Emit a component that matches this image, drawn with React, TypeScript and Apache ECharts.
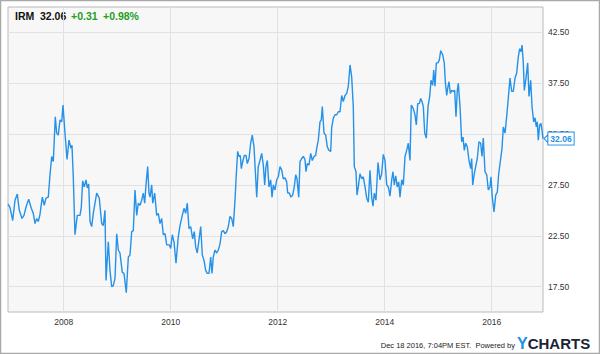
import React, { useEffect, useRef } from "react";
import * as echarts from "echarts";

// Dates as decimal years (weekly-ish samples), IRM close prices
const years: number[] = [
  2006.959, 2006.996, 2007.047, 2007.09, 2007.133, 2007.17, 2007.221, 2007.258, 2007.295, 2007.346,
  2007.394, 2007.432, 2007.464, 2007.495, 2007.525, 2007.557, 2007.6, 2007.637, 2007.669, 2007.712,
  2007.744, 2007.776, 2007.806, 2007.843, 2007.869, 2007.899, 2007.931, 2007.963, 2007.987, 2008.024,
  2008.062, 2008.099, 2008.136, 2008.155, 2008.179, 2008.211, 2008.254, 2008.305, 2008.329, 2008.355,
  2008.385, 2008.417, 2008.441, 2008.467, 2008.492, 2008.523, 2008.553, 2008.617, 2008.665, 2008.71,
  2008.74, 2008.772, 2008.791, 2008.834, 2008.865, 2008.897, 2008.927, 2008.959, 2008.991, 2009.021,
  2009.052, 2009.095, 2009.127, 2009.17, 2009.208, 2009.239, 2009.271, 2009.301, 2009.333, 2009.365,
  2009.394, 2009.426, 2009.458, 2009.488, 2009.514, 2009.538, 2009.57, 2009.594, 2009.613, 2009.645,
  2009.664, 2009.701, 2009.738, 2009.768, 2009.8, 2009.832, 2009.862, 2009.894, 2009.925, 2009.974,
  2010.0, 2010.03, 2010.062, 2010.099, 2010.142, 2010.174, 2010.217, 2010.249, 2010.28, 2010.31,
  2010.342, 2010.374, 2010.411, 2010.441, 2010.467, 2010.497, 2010.529, 2010.561, 2010.591, 2010.622,
  2010.654, 2010.684, 2010.716, 2010.748, 2010.772, 2010.796, 2010.828, 2010.86, 2010.89, 2010.922,
  2010.953, 2010.983, 2011.015, 2011.047, 2011.077, 2011.108, 2011.14, 2011.17, 2011.202, 2011.226,
  2011.252, 2011.277, 2011.301, 2011.32, 2011.346, 2011.376, 2011.408, 2011.432, 2011.464, 2011.495,
  2011.525, 2011.557, 2011.581, 2011.608, 2011.637, 2011.669, 2011.701, 2011.731, 2011.757, 2011.781,
  2011.806, 2011.837, 2011.869, 2011.894, 2011.918, 2011.95, 2011.981, 2012.011, 2012.043, 2012.075,
  2012.105, 2012.137, 2012.168, 2012.187, 2012.217, 2012.249, 2012.28, 2012.31, 2012.337, 2012.361,
  2012.393, 2012.417, 2012.449, 2012.479, 2012.51, 2012.529, 2012.553, 2012.585, 2012.617, 2012.647,
  2012.679, 2012.71, 2012.729, 2012.759, 2012.791, 2012.815, 2012.834, 2012.866, 2012.897, 2012.927,
  2012.959, 2012.991, 2013.009, 2013.039, 2013.071, 2013.103, 2013.133, 2013.165, 2013.196, 2013.226,
  2013.258, 2013.29, 2013.32, 2013.352, 2013.383, 2013.413, 2013.432, 2013.464, 2013.482, 2013.507,
  2013.538, 2013.57, 2013.6, 2013.632, 2013.664, 2013.694, 2013.725, 2013.757, 2013.781, 2013.806,
  2013.837, 2013.875, 2013.912, 2013.944, 2013.974, 2014.006, 2014.038, 2014.068, 2014.099, 2014.131,
  2014.155, 2014.18, 2014.206, 2014.236, 2014.262, 2014.286, 2014.318, 2014.348, 2014.38, 2014.411,
  2014.441, 2014.473, 2014.497, 2014.535, 2014.566, 2014.591, 2014.617, 2014.647, 2014.673, 2014.697,
  2014.722, 2014.748, 2014.778, 2014.81, 2014.841, 2014.866, 2014.897, 2014.916, 2014.94, 2014.965,
  2014.996, 2015.021, 2015.047, 2015.084, 2015.114, 2015.133, 2015.159, 2015.177, 2015.202, 2015.226,
  2015.252, 2015.282, 2015.308, 2015.333, 2015.357, 2015.376, 2015.408, 2015.439, 2015.464, 2015.488,
  2015.514, 2015.544, 2015.576, 2015.608, 2015.626, 2015.645, 2015.675, 2015.706, 2015.731, 2015.762,
  2015.794, 2015.819, 2015.843, 2015.875, 2015.907, 2015.937, 2015.968, 2015.987, 2016.011, 2016.043,
  2016.075, 2016.105, 2016.131, 2016.161, 2016.193, 2016.217, 2016.249, 2016.28, 2016.31, 2016.342,
  2016.374, 2016.404, 2016.436, 2016.467, 2016.497, 2016.523, 2016.548, 2016.567, 2016.591, 2016.61,
  2016.641, 2016.673, 2016.697, 2016.729, 2016.754, 2016.785, 2016.81, 2016.834, 2016.852, 2016.871,
  2016.897, 2016.921, 2016.94, 2016.959,
];

const prices: number[] = [
  25.6, 25.3, 24.0, 26.0, 26.6, 25.0, 24.2, 24.5, 25.3, 26.1,
  25.2, 24.7, 23.7, 24.2, 23.9, 24.6, 26.3, 25.5, 26.2, 26.3,
  28.5, 30.3, 29.8, 34.2, 32.6, 32.4, 33.9, 33.7, 35.35, 32.6,
  30.0, 31.9, 31.1, 31.4, 28.3, 22.6, 24.5, 24.5, 25.3, 27.9,
  27.3, 28.0, 27.2, 27.6, 23.9, 23.4, 24.7, 26.7, 26.2, 23.7,
  23.5, 25.0, 18.1, 21.9, 19.1, 17.5, 17.6, 18.3, 22.7, 21.1,
  20.8, 18.9, 18.8, 16.9, 20.4, 20.6, 22.9, 23.0, 27.0, 24.5,
  25.7, 25.5, 26.0, 26.7, 25.7, 27.5, 29.3, 26.7, 26.3, 27.5,
  25.7, 26.7, 24.5, 24.7, 23.7, 24.2, 22.6, 22.7, 21.6, 21.6,
  21.25, 22.6, 21.9, 19.8, 22.4, 23.5, 24.5, 25.2, 24.7, 25.7,
  23.2, 23.4, 22.2, 22.9, 21.4, 20.8, 22.1, 23.4, 20.6, 20.1,
  19.1, 18.8, 18.8, 20.4, 18.8, 20.4, 21.1, 20.8, 21.1, 21.7,
  22.9, 23.0, 22.7, 22.9, 23.4, 24.4, 24.2, 23.4, 26.0, 28.5,
  30.8, 30.3, 30.4, 29.1, 29.8, 30.4, 30.4, 29.6, 30.1, 31.6,
  32.4, 31.25, 28.95, 26.3, 29.3, 29.9, 30.6, 29.45, 27.5, 29.3,
  29.9, 27.3, 28.0, 26.3, 27.5, 27.0, 28.0, 28.3, 29.3, 28.95,
  28.1, 28.2, 27.8, 26.7, 26.7, 26.3, 26.5, 27.3, 28.5, 28.1,
  26.3, 29.8, 30.1, 30.3, 30.0, 28.8, 29.6, 29.45, 30.6, 29.9,
  30.3, 30.4, 31.1, 31.9, 33.7, 33.9, 35.2, 32.6, 32.4, 31.25,
  30.9, 30.8, 33.1, 34.05, 34.4, 34.4, 34.7, 34.7, 36.3, 35.7,
  36.3, 36.5, 37.2, 39.3, 38.1, 35.2, 29.3, 28.8, 26.5, 27.3,
  28.6, 28.1, 28.3, 27.3, 26.2, 25.8, 28.95, 26.3, 25.4, 26.7,
  26.0, 29.7, 28.0, 28.6, 30.5, 29.9, 27.5, 27.3, 26.4, 28.0,
  28.8, 27.5, 28.4, 27.3, 27.8, 26.3, 28.0, 27.5, 30.3, 30.9,
  31.6, 29.9, 35.35, 35.0, 34.4, 33.4, 35.5, 35.5, 36.0, 35.7,
  35.2, 32.6, 32.1, 35.2, 36.2, 37.8, 37.3, 38.8, 37.2, 39.5,
  39.5, 39.8, 40.7, 40.3, 39.5, 37.65, 36.3, 37.0, 37.65, 36.5,
  36.8, 36.7, 36.8, 34.2, 36.8, 37.5, 35.2, 31.75, 32.2, 30.9,
  31.6, 31.25, 29.9, 29.1, 30.1, 27.5, 28.6, 29.45, 30.1, 31.75,
  31.6, 30.3, 32.1, 28.8, 28.5, 27.0, 27.3, 28.3, 26.3, 24.85,
  26.5, 26.8, 28.6, 29.8, 31.1, 33.2, 32.6, 34.2, 36.0, 38.0,
  36.7, 36.7, 38.0, 38.5, 40.1, 40.9, 40.6, 41.25, 39.5, 36.8,
  38.0, 39.5, 36.2, 37.8, 35.2, 33.7, 34.1, 33.2, 33.7, 31.9,
  33.4, 33.55, 32.9, 32.06,
];

const yearTicks: number[] = [2008, 2010, 2012, 2014, 2016];
const priceTicks: number[] = [17.5, 22.5, 27.5, 32.5, 37.5, 42.5];
const xRange: number[] = [2006.959, 2016.959];
const yRange: number[] = [15, 45];

const ticker = "IRM";
const lastPrice = "32.06";
const change = "+0.31";
const changePct = "+0.98%";
const footerText = "Dec 18 2016, 7:04PM EST.  Powered by";

const BLUE = "#2591e8";
const GREEN = "#1f9e1f";
const FONT = "'Liberation Sans', Arial, sans-serif";

export default function App() {
  const ref = useRef<HTMLDivElement>(null);

  useEffect(() => {
    if (!ref.current) return;
    const chart = echarts.init(ref.current, null, { renderer: "svg" });
    const data = years.map((y, i) => [y, prices[i]]);
    const last = data[data.length - 1];

    chart.setOption({
      animation: false,
      backgroundColor: "#ffffff",
      textStyle: { fontFamily: FONT },
      grid: {
        left: 8,
        right: 57,
        top: 7,
        bottom: 42,
        show: true,
        backgroundColor: "#f7f7f7",
        borderColor: "#b9b9b9",
        borderWidth: 1,
      },
      xAxis: {
        type: "value",
        min: xRange[0],
        max: xRange[1],
        axisLine: { show: false },
        axisTick: { show: false, customValues: yearTicks },
        axisLabel: {
          customValues: yearTicks,
          formatter: (v: number) => String(Math.round(v)),
          color: "#333",
          fontSize: 8.5,
          fontFamily: FONT,
          margin: 5,
        },
        splitLine: { show: true, lineStyle: { color: "#e1e1e1", width: 1 } },
      },
      yAxis: {
        type: "value",
        position: "right",
        min: yRange[0],
        max: yRange[1],
        axisLine: { show: false },
        axisTick: { show: false, customValues: priceTicks },
        axisLabel: {
          customValues: priceTicks,
          formatter: (v: number) => v.toFixed(2),
          color: "#333",
          fontSize: 8.5,
          fontFamily: FONT,
          margin: 5,
        },
        splitLine: { show: true, lineStyle: { color: "#e1e1e1", width: 1 } },
      },
      series: [
        {
          type: "line",
          data,
          showSymbol: false,
          symbol: "none",
          lineStyle: { color: BLUE, width: 1.4 },
          z: 3,
          markPoint: {
            silent: true,
            z: 10,
            data: [
              {
                coord: last,
                symbol: "path://M0 4 L4 0 L4 8 Z",
                symbolSize: [4, 8],
                symbolOffset: [3, 0],
                itemStyle: { color: "#ffffff", borderColor: BLUE, borderWidth: 1 },
                label: {
                  show: true,
                  position: "right",
                  distance: 0,
                  formatter: lastPrice,
                  color: BLUE,
                  fontWeight: "bold",
                  fontSize: 8.5,
                  fontFamily: FONT,
                  backgroundColor: "#ffffff",
                  borderColor: BLUE,
                  borderWidth: 1,
                  padding: [2, 2, 1, 2],
                },
              },
            ],
          },
        },
      ],
      graphic: [
        {
          type: "rect",
          silent: true,
          z: 100,
          shape: { x: 0.5, y: 0.5, width: 599, height: 353 },
          style: { fill: "none", stroke: "#a9a9a9", lineWidth: 1.5 },
        },
        {
          type: "text",
          x: 15,
          y: 16,
          style: { text: ticker, fill: "#111", font: `bold 10.5px ${FONT}`, textVerticalAlign: "middle" },
        },
        {
          type: "text",
          x: 40,
          y: 16,
          style: { text: lastPrice, fill: "#111", font: `bold 10.5px ${FONT}`, textVerticalAlign: "middle" },
        },
        {
          type: "text",
          x: 71,
          y: 16,
          style: { text: change, fill: GREEN, font: `bold 10.5px ${FONT}`, textVerticalAlign: "middle" },
        },
        {
          type: "text",
          x: 103,
          y: 16,
          style: { text: changePct, fill: GREEN, font: `bold 10.5px ${FONT}`, textVerticalAlign: "middle" },
        },
        {
          type: "text",
          x: 515,
          y: 345,
          style: {
            text: footerText,
            fill: "#222",
            font: `7.5px ${FONT}`,
            textAlign: "right",
            textVerticalAlign: "middle",
          },
        },
        {
          type: "text",
          x: 517,
          y: 343,
          style: {
            text: "{y|Y}{c|CHARTS}",
            textVerticalAlign: "middle",
            rich: {
              y: { fill: "#1d8fe6", font: `bold 16px ${FONT}` },
              c: { fill: "#1b2336", font: `bold 15px ${FONT}` },
            },
          },
        },
      ],
    });

    return () => chart.dispose();
  }, []);

  return (
    <div
      ref={ref}
      style={{ position: "absolute", left: 0, top: 0, width: 600, height: 354 }}
    />
  );
}
